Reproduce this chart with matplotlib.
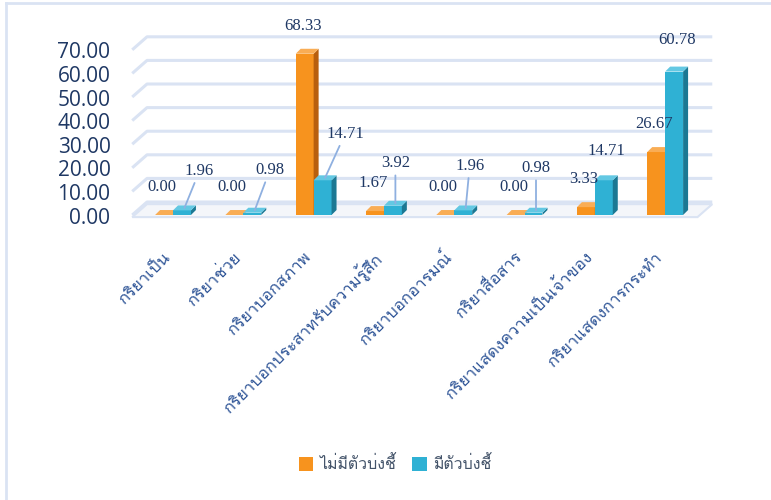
import numpy as np
import matplotlib.pyplot as plt
from matplotlib.patches import Polygon, Rectangle
from matplotlib.lines import Line2D
from matplotlib import font_manager
from matplotlib.ft2font import FT2Font

categories = [
    "กริยาเป็น",
    "กริยาช่วย",
    "กริยาบอกสภาพ",
    "กริยาบอกประสาทรับความรู้สึก",
    "กริยาบอกอารมณ์",
    "กริยาสื่อสาร",
    "กริยาแสดงความเป็นเจ้าของ",
    "กริยาแสดงการกระทำ",
]
no_marker = [0.00, 0.00, 68.33, 1.67, 0.00, 0.00, 3.33, 26.67]
with_marker = [1.96, 0.98, 14.71, 3.92, 1.96, 0.98, 14.71, 60.78]
series_names = ["ไม่มีตัวบ่งชี้", "มีตัวบ่งชี้"]
yticks = np.arange(0, 71, 10)

# label offsets in pixels from the bar top (blue labels were moved by hand in excel)
orange_offsets = [(-2, 28)] * 8
blue_offsets = [(15, 37), (15, 40), (20, 44), (0, 40), (4, 42), (0, 42), (0, 27), (0, 29)]
blue_leader = [True, True, True, True, True, True, False, False]


def thai_font():
    """first installed font that has Thai glyphs"""
    for f in font_manager.fontManager.ttflist:
        try:
            if 0x0E01 in FT2Font(f.fname).get_charmap():
                return f.name
        except Exception:
            pass
    return "DejaVu Sans"


THAI = [thai_font(), "DejaVu Sans"]

ORANGE = ("#f7931e", "#b85f0e", "#f9ad55")  # front, side, top
BLUE = ("#2fb1d4", "#1b7893", "#63c8e3")
GRID = "#dae3f3"
NAVY = "#1f3864"

BW = 0.255      # front width of a bar
DX = 0.071      # depth of a bar (x units)
DY = 2.1        # depth of a bar (y units)
WX = 0.21       # depth of the back wall
WY = 5.5

fig = plt.figure(figsize=(7.71, 5.0), dpi=100)
ax = fig.add_axes([120 / 771, 1 - 230 / 500, 600 / 771, 220 / 500])
ax.set_xlim(-0.754, 7.78)
ax.set_ylim(-6.36, 86.86)
ax.axis("off")

x = np.arange(len(categories))
x_left, x_right = -0.58, 7.46

# back wall + side wall grid lines
for v in yticks:
    ax.plot([x_left, x_left + WX, x_right + WX], [v, v + WY, v + WY],
            color=GRID, lw=2.2, zorder=1, solid_capstyle="butt")
    ax.text(-0.89, v - 1.3, f"{v:.2f}", ha="right", va="center", fontsize=15,
            family="Open Sans", color=NAVY)

# floor
floor = Polygon([(x_left, -0.9), (x_right, -0.9), (x_right + WX, WY - 0.9),
                 (x_left + WX, WY - 0.9)], closed=True,
                facecolor="#f4f6fa", edgecolor=GRID, lw=1.5, zorder=1.5)
ax.add_patch(floor)


def bar3d(xc, h, colors, z):
    front, side, top = colors
    x0, x1 = xc - BW / 2, xc + BW / 2
    ax.add_patch(Rectangle((x0, 0), BW, h, facecolor=front, edgecolor="none", zorder=z))
    ax.add_patch(Polygon([(x1, 0), (x1 + DX, DY), (x1 + DX, h + DY), (x1, h)],
                         facecolor=side, edgecolor="none", zorder=z))
    ax.add_patch(Polygon([(x0, h), (x1, h), (x1 + DX, h + DY), (x0 + DX, h + DY)],
                         facecolor=top, edgecolor="none", zorder=z))


for i in x:
    xo = i - BW / 2
    xb = i + BW / 2
    bar3d(xo, no_marker[i], ORANGE, 3 + i * 0.01)
    bar3d(xb, with_marker[i], BLUE, 4 + i * 0.01)

    ax.annotate(f"{no_marker[i]:.2f}", (xo, no_marker[i]), xytext=orange_offsets[i],
                textcoords="offset pixels", ha="center", va="center",
                fontsize=12, family="Liberation Serif", color=NAVY, zorder=6)
    arrow = None
    if blue_leader[i]:
        arrow = dict(arrowstyle="-", color="#8fb0e0", lw=1.3, shrinkA=1, shrinkB=0)
    ax.annotate(f"{with_marker[i]:.2f}", (xb + DX / 2, with_marker[i] + DY / 2),
                xytext=blue_offsets[i], textcoords="offset pixels",
                ha="center", va="center", fontsize=12, family="Liberation Serif",
                color=NAVY, arrowprops=arrow, zorder=6)

    ax.text(i - 0.07, -0.114, categories[i], transform=ax.get_xaxis_transform(),
            rotation=45, rotation_mode="anchor", ha="right", va="center",
            fontsize=12, family=THAI, color="#2f5597")

handles = [Rectangle((0, 0), 1, 1, facecolor=ORANGE[0]),
           Rectangle((0, 0), 1, 1, facecolor=BLUE[0])]
leg = fig.legend(handles, series_names, loc="center", bbox_to_anchor=(395 / 771, 1 - 465 / 500),
                 ncol=2, frameon=False, handlelength=0.9, handleheight=0.9,
                 handletextpad=0.4, columnspacing=1.0, prop={"family": THAI, "size": 11.5})
for t in leg.get_texts():
    t.set_color("#44546a")

# chart frame (only left and top edges show)
fig.add_artist(Line2D([6 / 771, 6 / 771], [0, 1 - 3 / 500], color=GRID, lw=2))
fig.add_artist(Line2D([6 / 771, 1], [1 - 3 / 500, 1 - 3 / 500], color=GRID, lw=2))

fig.savefig("out.png", dpi=100)
